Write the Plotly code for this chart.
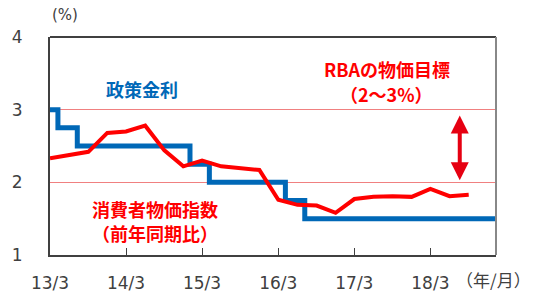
import plotly.graph_objects as go

# CPI (y/y, quarterly)
cpi_dates = ["2013-03-01", "2013-06-01", "2013-09-01", "2013-12-01",
             "2014-03-01", "2014-06-01", "2014-09-01", "2014-12-01",
             "2015-03-01", "2015-06-01", "2015-09-01", "2015-12-01",
             "2016-03-01", "2016-06-01", "2016-09-01", "2016-12-01",
             "2017-03-01", "2017-06-01", "2017-09-01", "2017-12-01",
             "2018-03-01", "2018-06-01", "2018-09-01"]
cpi_values = [2.33, 2.38, 2.42, 2.68, 2.70, 2.78, 2.44, 2.22,
              2.30, 2.22, 2.19, 2.17, 1.76, 1.69, 1.68, 1.58,
              1.77, 1.80, 1.81, 1.80, 1.91, 1.81, 1.83]

# Policy rate (step changes)
rate_dates = ["2013-03-01", "2013-04-08", "2013-07-10", "2015-01-02",
              "2015-04-05", "2016-04-04", "2016-07-06", "2019-01-10"]
rate_values = [3.0, 2.75, 2.5, 2.25, 2.0, 1.75, 1.5, 1.5]

x_tickvals = ["2013-03-01", "2014-03-01", "2015-03-01", "2016-03-01",
              "2017-03-01", "2018-03-01"]
x_ticktext = ["13/3", "14/3", "15/3", "16/3", "17/3", "18/3"]
y_tickvals = [1, 2, 3, 4]

FONT = "DejaVu Sans, Noto Sans CJK JP, sans-serif"
JP = "Noto Sans CJK JP, sans-serif"
RED = "#ff0000"
BLUE = "#0068b7"
DARK = "#404040"

fig = go.Figure()
fig.add_trace(go.Scatter(x=rate_dates, y=rate_values, mode="lines",
                         line=dict(color=BLUE, width=5, shape="hv"),
                         hoverinfo="skip"))
fig.add_trace(go.Scatter(x=cpi_dates, y=cpi_values, mode="lines",
                         line=dict(color=RED, width=4),
                         hoverinfo="skip"))

fig.update_layout(
    width=538, height=305,
    margin=dict(l=47, r=42, t=37, b=47),
    paper_bgcolor="white", plot_bgcolor="white",
    showlegend=False,
    font=dict(family=FONT, color=DARK, size=17),
    xaxis=dict(type="date", range=["2013-03-01", "2019-01-10"],
               tickvals=x_tickvals, ticktext=x_ticktext,
               ticks="inside", ticklen=7, tickcolor=DARK, tickwidth=1,
               showgrid=False, zeroline=False,
               showline=True, linecolor=DARK, linewidth=2,
               ticklabelstandoff=12,
               tickfont=dict(size=17, color=DARK, family=FONT)),
    yaxis=dict(range=[1, 4], tickvals=y_tickvals,
               ticks="", showgrid=True, gridcolor="#f08080", gridwidth=1,
               zeroline=False, showline=True, linecolor=DARK, linewidth=2,
               ticklabelstandoff=22,
               tickfont=dict(size=17, color=DARK, family=FONT)),
    shapes=[
        dict(type="line", xref="paper", yref="paper", x0=0, x1=1, y0=1, y1=1,
             line=dict(color=DARK, width=2)),
        dict(type="line", xref="paper", yref="paper", x0=1, x1=1, y0=0, y1=1,
             line=dict(color="#888888", width=2)),
    ],
    annotations=[
        dict(text="(%)", xref="paper", yref="paper", x=0.033, y=1.10,
             xanchor="center", yanchor="middle", showarrow=False,
             font=dict(size=15, color=DARK, family=FONT)),
        dict(text="（年/月）", xref="paper", yref="paper", x=0.995, y=-0.113,
             xanchor="center", yanchor="middle", showarrow=False,
             font=dict(size=17, color=DARK, family=JP)),
        dict(text="<b>政策金利</b>", xref="paper", yref="paper", x=0.206, y=0.76,
             xanchor="center", yanchor="middle", showarrow=False,
             font=dict(size=18, color=BLUE, family=JP)),
        dict(text="<b>RBAの物価目標</b>", xref="paper", yref="paper", x=0.755, y=0.855,
             xanchor="center", yanchor="middle", showarrow=False,
             font=dict(size=18, color=RED, family=JP)),
        dict(text="<b>（2～3%）</b>", xref="paper", yref="paper", x=0.755, y=0.74,
             xanchor="center", yanchor="middle", showarrow=False,
             font=dict(size=18, color=RED, family=JP)),
        dict(text="<b>消費者物価指数</b>", xref="paper", yref="paper", x=0.235, y=0.21,
             xanchor="center", yanchor="middle", showarrow=False,
             font=dict(size=18, color=RED, family=JP)),
        dict(text="<b>（前年同期比）</b>", xref="paper", yref="paper", x=0.235, y=0.10,
             xanchor="center", yanchor="middle", showarrow=False,
             font=dict(size=18, color=RED, family=JP)),
        dict(x="2018-07-20", y=2.03, ax="2018-07-20", ay=2.94,
             xref="x", yref="y", axref="x", ayref="y", text="",
             showarrow=True, arrowhead=2, arrowside="end+start",
             arrowsize=0.9, arrowwidth=4, arrowcolor="#e60012"),
    ],
)

fig.write_html("out.html")
